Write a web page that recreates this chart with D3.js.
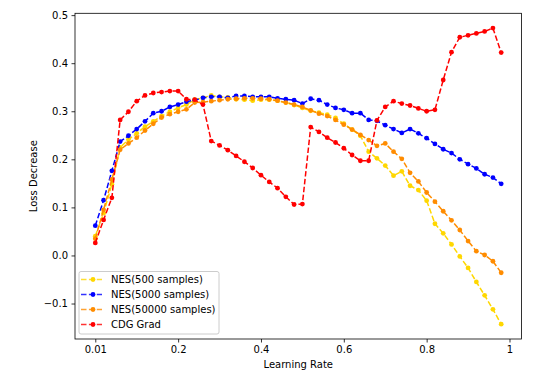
<!DOCTYPE html>
<html>
<head>
<meta charset="utf-8">
<script src="https://cdn.jsdelivr.net/npm/d3@7"></script>
<style>
  body { margin: 0; background: #fff; }
  text { font-family: "DejaVu Sans", sans-serif; font-size: 10px; fill: #000; }
</style>
</head>
<body>
<div id="chart"></div>
<script>
// learning rates (x), one point every 0.02
var lr = [0.00, 0.02, 0.04, 0.06, 0.08, 0.10, 0.12, 0.14, 0.16, 0.18,
          0.20, 0.22, 0.24, 0.26, 0.28, 0.30, 0.32, 0.34, 0.36, 0.38,
          0.40, 0.42, 0.44, 0.46, 0.48, 0.50, 0.52, 0.54, 0.56, 0.58,
          0.60, 0.62, 0.64, 0.66, 0.68, 0.70, 0.72, 0.74, 0.76, 0.78,
          0.80, 0.82, 0.84, 0.86, 0.88, 0.90, 0.92, 0.94, 0.96, 0.98];

var nes500 = [0.040, 0.088, 0.148, 0.225, 0.241, 0.254, 0.268, 0.279, 0.290, 0.299,
              0.307, 0.314, 0.324, 0.328, 0.333, 0.330, 0.329, 0.325, 0.324, 0.322,
              0.324, 0.324, 0.322, 0.318, 0.313, 0.307, 0.301, 0.297, 0.293, 0.286,
              0.274, 0.262, 0.249, 0.216, 0.202, 0.187, 0.166, 0.175, 0.145, 0.136,
              0.114, 0.066, 0.046, 0.023, -0.002, -0.026, -0.055, -0.083, -0.112, -0.143];

var nes5000 = [0.062, 0.115, 0.176, 0.237, 0.249, 0.263, 0.279, 0.296, 0.300, 0.309,
               0.314, 0.320, 0.323, 0.328, 0.330, 0.330, 0.328, 0.332, 0.332, 0.330,
               0.330, 0.330, 0.327, 0.325, 0.323, 0.316, 0.326, 0.323, 0.314, 0.307,
               0.303, 0.296, 0.296, 0.282, 0.280, 0.271, 0.263, 0.255, 0.263, 0.254,
               0.244, 0.232, 0.221, 0.213, 0.200, 0.190, 0.181, 0.169, 0.162, 0.149];

var nes50000 = [0.035, 0.095, 0.158, 0.220, 0.233, 0.245, 0.260, 0.274, 0.287, 0.294,
                0.299, 0.304, 0.318, 0.319, 0.321, 0.323, 0.325, 0.326, 0.327, 0.327,
                0.326, 0.325, 0.322, 0.318, 0.314, 0.309, 0.302, 0.295, 0.290, 0.282,
                0.272, 0.262, 0.251, 0.240, 0.228, 0.233, 0.216, 0.201, 0.172, 0.154,
                0.131, 0.112, 0.092, 0.073, 0.053, 0.030, 0.009, 0.001, -0.012, -0.036];

var cdg = [0.026, 0.074, 0.120, 0.282, 0.299, 0.321, 0.333, 0.338, 0.340, 0.342,
           0.342, 0.325, 0.324, 0.314, 0.238, 0.229, 0.219, 0.207, 0.195, 0.182,
           0.167, 0.153, 0.140, 0.122, 0.106, 0.107, 0.267, 0.257, 0.245, 0.235,
           0.223, 0.209, 0.197, 0.197, 0.281, 0.309, 0.321, 0.316, 0.312, 0.306,
           0.300, 0.303, 0.365, 0.423, 0.454, 0.458, 0.462, 0.466, 0.473, 0.422];

var seriesNames = ["NES(500 samples)", "NES(5000 samples)", "NES(50000 samples)", "CDG Grad"];
var seriesColors = ["#ffd700", "#0000ff", "#ff8c00", "#ff0000"];

var xTicks = [0, 0.2, 0.4, 0.6, 0.8, 1];
var xTickLabels = ["0.01", "0.2", "0.4", "0.6", "0.8", "1"];
var yTicks = [-0.1, 0.0, 0.1, 0.2, 0.3, 0.4, 0.5];

var W = 539, H = 377;
var axLeft = 75, axRight = 521.5, axTop = 13.3, axBottom = 339;

var svg = d3.select("#chart").append("svg")
    .attr("width", W)
    .attr("height", H);

svg.append("rect").attr("width", W).attr("height", H).attr("fill", "#fff");

var allSeries = [nes500, nes5000, nes50000, cdg];

// matplotlib style 5% margins
var xPad = (d3.max(lr) - d3.min(lr)) * 0.05;
var x = d3.scaleLinear()
    .domain([d3.min(lr) - xPad, d3.max(lr) + xPad])
    .range([axLeft, axRight]);

var yMin = d3.min(allSeries, function(s) { return d3.min(s); });
var yMax = d3.max(allSeries, function(s) { return d3.max(s); });
var yPad = (yMax - yMin) * 0.05;
var y = d3.scaleLinear()
    .domain([yMin - yPad, yMax + yPad])
    .range([axBottom, axTop]);

var xAxis = svg.append("g")
    .attr("transform", "translate(0," + axBottom + ")")
    .call(d3.axisBottom(x)
      .tickValues(xTicks)
      .tickFormat(function(d, i) { return xTickLabels[i]; })
      .tickSize(3.5)
      .tickPadding(3.5));

var yAxis = svg.append("g")
    .attr("transform", "translate(" + axLeft + ",0)")
    .call(d3.axisLeft(y)
      .tickValues(yTicks)
      .tickFormat(function(d) { return d < 0 ? "\u2212" + d3.format(".1f")(-d) : d3.format(".1f")(d); })
      .tickSize(3.5)
      .tickPadding(3.5));

[xAxis, yAxis].forEach(function(a) {
  a.select(".domain").remove();
  a.selectAll(".tick line").attr("stroke", "#000").attr("stroke-width", 0.8);
  a.selectAll(".tick text").attr("font-family", "DejaVu Sans").attr("font-size", 10).attr("fill", "#000");
});

var line = d3.line()
    .x(function(d, i) { return x(lr[i]); })
    .y(function(d) { return y(d); });

var plot = svg.append("g");

allSeries.forEach(function(s, k) {
  var g = plot.append("g");
  g.append("path")
    .datum(s)
    .attr("d", line)
    .attr("fill", "none")
    .attr("stroke", seriesColors[k])
    .attr("stroke-width", 1.5)
    .attr("stroke-dasharray", "5.5,2.4");
  g.selectAll("circle")
    .data(s)
    .enter()
    .append("circle")
    .attr("cx", function(d, i) { return x(lr[i]); })
    .attr("cy", function(d) { return y(d); })
    .attr("r", 2.4)
    .attr("fill", seriesColors[k]);
});

// spines
svg.append("rect")
    .attr("x", axLeft).attr("y", axTop)
    .attr("width", axRight - axLeft).attr("height", axBottom - axTop)
    .attr("fill", "none")
    .attr("stroke", "#000")
    .attr("stroke-width", 0.8);

svg.append("text")
    .attr("x", (axLeft + axRight) / 2)
    .attr("y", 368)
    .attr("text-anchor", "middle")
    .text("Learning Rate");

svg.append("text")
    .attr("transform", "translate(37," + (axTop + axBottom) / 2 + ")rotate(-90)")
    .attr("text-anchor", "middle")
    .text("Loss Decrease");

// legend
var legend = svg.append("g").attr("transform", "translate(79,271.5)");

legend.append("rect")
    .attr("width", 140)
    .attr("height", 62.5)
    .attr("rx", 2)
    .attr("fill", "#fff")
    .attr("fill-opacity", 0.8)
    .attr("stroke", "#cccccc")
    .attr("stroke-width", 1);

var item = legend.selectAll("g.item")
    .data(seriesNames)
    .enter()
    .append("g")
    .attr("class", "item")
    .attr("transform", function(d, i) { return "translate(0," + (8 + i * 15) + ")"; });

item.append("line")
    .attr("x1", 2).attr("x2", 23)
    .attr("stroke", function(d, i) { return seriesColors[i]; })
    .attr("stroke-width", 1.5)
    .attr("stroke-dasharray", "5.5,2.4")
    .attr("stroke-opacity", 0.8);

item.append("circle")
    .attr("cx", 14)
    .attr("r", 2.4)
    .attr("fill", function(d, i) { return seriesColors[i]; });

item.append("text")
    .attr("x", 32)
    .attr("dy", "0.35em")
    .text(function(d) { return d; });
</script>
</body>
</html>
